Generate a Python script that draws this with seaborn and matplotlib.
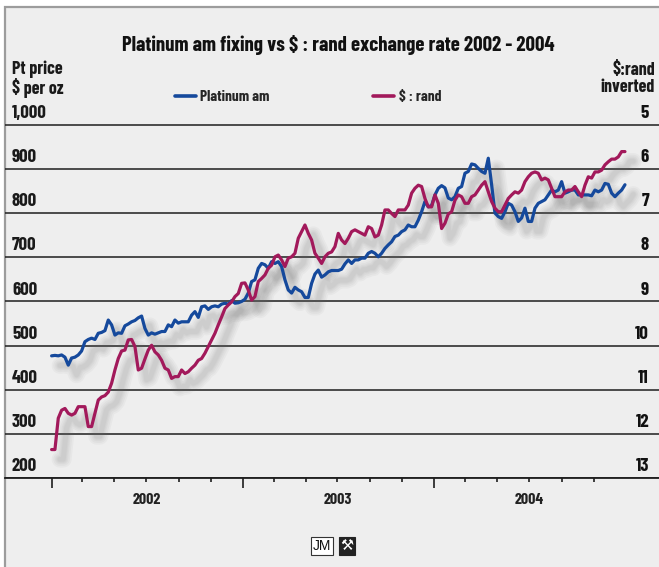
import pandas as pd
import matplotlib
matplotlib.use("Agg")
import matplotlib.pyplot as plt
import matplotlib.dates as mdates
import matplotlib.patheffects as pe
import matplotlib.transforms as mtransforms
from matplotlib.lines import Line2D
from matplotlib.patches import Rectangle
from matplotlib.ticker import FixedLocator, NullFormatter
import seaborn as sns

# Weekly-ish readings, Jan 2002 - Dec 2004
platinum = [
    477, 478, 477, 479, 474, 456, 472, 474, 479, 488,
    509, 514, 517, 514, 528, 530, 534, 558, 547, 524,
    529, 528, 545, 549, 554, 557, 563, 567, 539, 524,
    529, 526, 529, 532, 532, 547, 543, 558, 551, 554,
    554, 554, 569, 577, 564, 588, 590, 582, 588, 590,
    588, 594, 596, 594, 602, 596, 597, 600, 605, 619,
    645, 649, 675, 686, 683, 675, 690, 686, 690, 679,
    649, 626, 619, 632, 626, 622, 609, 609, 641, 662,
    671, 655, 660, 667, 670, 670, 670, 673, 685, 694,
    686, 694, 694, 698, 698, 709, 713, 709, 701, 709,
    720, 728, 735, 747, 750, 758, 762, 773, 769, 769,
    784, 803, 826, 814, 817, 841, 856, 862, 857, 834,
    830, 837, 856, 860, 890, 894, 911, 909, 901, 894,
    890, 924, 864, 800, 792, 788, 803, 822, 818, 803,
    781, 789, 811, 781, 781, 811, 822, 826, 830, 841,
    852, 848, 852, 871, 845, 848, 852, 852, 841, 841,
    841, 841, 839, 852, 848, 852, 867, 865, 845, 837,
    845, 852, 864,
]

rand = [
    12.35, 12.35, 11.64, 11.46, 11.42, 11.53, 11.57, 11.53, 11.38, 11.38,
    11.38, 11.83, 11.83, 11.53, 11.23, 11.16, 11.13, 11.05, 10.85, 10.55,
    10.29, 10.12, 10.10, 9.87, 9.86, 10.02, 10.55, 10.51, 10.30, 10.10,
    9.99, 10.14, 10.21, 10.33, 10.51, 10.55, 10.74, 10.70, 10.70, 10.55,
    10.63, 10.59, 10.51, 10.44, 10.33, 10.29, 10.17, 10.02, 9.87, 9.72,
    9.53, 9.35, 9.16, 9.08, 9.01, 8.89, 8.82, 8.59, 8.58, 8.74,
    8.97, 8.89, 8.55, 8.48, 8.40, 8.25, 8.18, 7.99, 7.95, 8.06,
    8.21, 8.02, 7.99, 7.91, 7.57, 7.42, 7.27, 7.46, 7.61, 7.91,
    8.02, 8.14, 7.99, 7.91, 7.88, 7.76, 7.46, 7.61, 7.69, 7.57,
    7.42, 7.38, 7.42, 7.46, 7.50, 7.31, 7.35, 7.54, 7.50, 7.27,
    6.93, 6.93, 7.01, 7.08, 6.93, 6.93, 6.93, 6.82, 6.55, 6.44,
    6.37, 6.40, 6.67, 6.86, 6.86, 6.59, 6.78, 7.35, 7.23, 7.02,
    6.97, 6.71, 6.59, 6.63, 6.78, 6.78, 6.63, 6.59, 6.48, 6.37,
    6.29, 6.52, 6.74, 6.89, 6.97, 6.97, 6.82, 6.67, 6.59, 6.52,
    6.55, 6.48, 6.29, 6.18, 6.10, 6.07, 6.10, 6.25, 6.21, 6.25,
    6.44, 6.63, 6.63, 6.63, 6.52, 6.48, 6.48, 6.40, 6.52, 6.63,
    6.37, 6.18, 6.21, 6.07, 6.07, 6.03, 5.91, 5.84, 5.78, 5.78,
    5.73, 5.61, 5.61,
]

years = [2002, 2003, 2004]
pt_ticks = [1000, 900, 800, 700, 600, 500, 400, 300, 200]
pt_tick_labels = ["1,000", "900", "800", "700", "600", "500", "400", "300", "200"]
rand_ticks = [5, 6, 7, 8, 9, 10, 11, 12, 13]

BLUE = "#15499c"
RED = "#a2195b"


def rand_to_pt(r):
    # right axis is inverted: 5 sits on 1,000 and 13 on 200
    return 1000 - (r - 5) * 100


dates = pd.date_range("2002-01-01", "2004-12-31", periods=len(platinum))
df = pd.DataFrame({"date": dates, "platinum": platinum, "rand": rand})
df["rand_on_pt"] = rand_to_pt(df["rand"])

sns.set_theme(style="white")
plt.rcParams["font.family"] = ["Barlow Condensed", "DejaVu Sans"]
plt.rcParams["font.weight"] = "bold"

W, H = 659, 567
fig = plt.figure(figsize=(W / 100, H / 100), dpi=100, facecolor="white")

# grey panel with a border on the left and top
fig.add_artist(Rectangle((5 / W, -0.01), 1.0, 1 - 7 / H + 0.01, transform=fig.transFigure,
                         facecolor="#eeeeee", edgecolor="#9c9c9c", linewidth=1.6, zorder=0))

ax = fig.add_axes([5 / W, (H - 478.3) / H, (W - 5) / W, 355 / H])
ax.set_facecolor("none")

shadow = [pe.SimpleLineShadow(offset=(6, -7), shadow_color="#707070", alpha=0.055, linewidth=lw)
          for lw in (12, 9.5, 7, 5, 3.5)]

# shadows first, then the lines
sns.lineplot(data=df, x="date", y="platinum", ax=ax, color=BLUE, lw=2.3,
             path_effects=shadow, zorder=1)
sns.lineplot(data=df, x="date", y="rand_on_pt", ax=ax, color=RED, lw=2.3,
             path_effects=shadow, zorder=1)
sns.lineplot(data=df, x="date", y="platinum", ax=ax, color=BLUE, lw=2.3, zorder=3)
sns.lineplot(data=df, x="date", y="rand_on_pt", ax=ax, color=RED, lw=2.3, zorder=4)

ax.set_xlim(pd.Timestamp("2001-10-04"), pd.Timestamp("2005-03-06"))
ax.set_ylim(200, 1003)
ax.set_xlabel("")
ax.set_ylabel("")

ax.set_yticks(pt_ticks)
ax.yaxis.set_major_formatter(NullFormatter())
ax.yaxis.grid(True, color="#1e1e1e", linewidth=1.1)
ax.tick_params(axis="y", length=0)

year_starts = [pd.Timestamp(f"{y}-01-01") for y in years]
minor = [d for d in pd.date_range("2002-03-01", "2004-11-01", freq="2MS") if d.month != 1]
ax.xaxis.set_major_locator(FixedLocator(mdates.date2num(year_starts)))
ax.xaxis.set_minor_locator(FixedLocator(mdates.date2num(minor)))
ax.xaxis.set_major_formatter(NullFormatter())
ax.xaxis.set_minor_formatter(NullFormatter())
ax.tick_params(axis="x", which="major", bottom=True, length=7, width=1.2, color="#1e1e1e", direction="out")
ax.tick_params(axis="x", which="minor", bottom=True, length=3.2, width=1.2, color="#1e1e1e", direction="out")

for s in ("left", "right", "top"):
    ax.spines[s].set_visible(False)
ax.spines["bottom"].set_color("#1e1e1e")
ax.spines["bottom"].set_linewidth(1.3)

# labels sit just above their gridline
up = mtransforms.ScaledTranslation(0, 5 / 72, fig.dpi_scale_trans)
left_tr = mtransforms.blended_transform_factory(fig.transFigure, ax.transData) + up
for v, lab in zip(pt_ticks, pt_tick_labels):
    ax.text(12 / W, v, lab, transform=left_tr, ha="left", va="baseline",
            fontsize=13.5, color="#1a1a1a", fontweight="bold")
for r in rand_ticks:
    ax.text(649 / W, rand_to_pt(r), str(r), transform=left_tr, ha="right", va="baseline",
            fontsize=13.5, color="#111111", fontweight="bold")

year_tr = mtransforms.blended_transform_factory(ax.transData, fig.transFigure)
for y in years:
    ax.text(mdates.date2num(pd.Timestamp(f"{y}-07-02")), 1 - 500 / H, str(y), transform=year_tr,
            ha="center", va="center", fontsize=11.5, color="#222222", fontweight="bold")

fig.text(338 / W, 1 - 45 / H, r"Platinum am fixing vs \$ : rand exchange rate 2002 - 2004",
         ha="center", va="center", fontsize=15, fontweight="bold", color="#111111")
fig.text(12 / W, 1 - 79 / H, "Pt price\n\\$ per oz", ha="left", va="center",
         fontsize=13, fontweight="bold", color="#1a1a1a", linespacing=1.0)
fig.text(655 / W, 1 - 79 / H, "\\$:rand\ninverted", ha="right", va="center", multialignment="right",
         fontsize=13, fontweight="bold", color="#1a1a1a", linespacing=1.0)

handles = [Line2D([], [], color=BLUE, lw=2.6), Line2D([], [], color=RED, lw=2.6)]
fig.legend(handles, ["Platinum am", "\\$ : rand"], loc="center left",
           bbox_to_anchor=(175 / W, 1 - 97 / H), ncol=2, frameon=False,
           handlelength=1.35, handletextpad=0.3, columnspacing=6.8,
           borderpad=0, borderaxespad=0, prop={"weight": "bold", "size": 11})

# JM logo
fig.text(322 / W, 1 - 546 / H, "JM", ha="center", va="center", fontsize=10,
         family="Liberation Sans", fontweight="normal", color="#111111",
         bbox=dict(boxstyle="square,pad=0.12", fc="white", ec="#333333", lw=0.8))
fig.text(347 / W, 1 - 546 / H, "\u2692", ha="center", va="center", fontsize=10.5,
         family="DejaVu Sans", color="white",
         bbox=dict(boxstyle="square,pad=0.1", fc="#222222", ec="#222222", lw=0.8))

fig.savefig("out.png", dpi=100, facecolor=fig.get_facecolor())
